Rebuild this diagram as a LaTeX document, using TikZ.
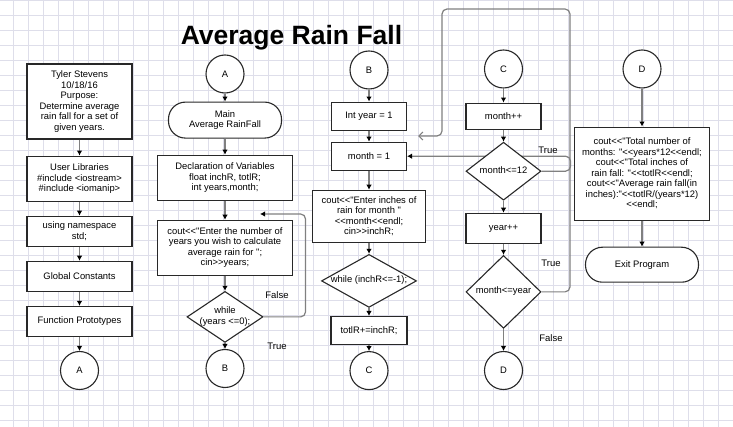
\documentclass[tikz,border=0pt]{standalone}
\usepackage{fontspec}
\newfontfamily\arial{Liberation Sans}
\usetikzlibrary{arrows.meta,positioning,calc,shapes.geometric}
\pgfdeclarelayer{grid}
\pgfdeclarelayer{background}
\pgfsetlayers{grid,background,main}
\definecolor{linegray}{RGB}{128,128,128}
\definecolor{shapeline}{RGB}{40,40,40}
\definecolor{gridblue}{RGB}{222,222,234}
\newcommand{\dtxt}[1]{\makebox[0pt]{\begin{tabular}{@{}c@{}}#1\end{tabular}}}

\begin{document}
\begin{tikzpicture}[
    x=1pt, y=-1pt,
    font=\arial\fontsize{9.4}{10.5}\selectfont,
    block/.style={draw=shapeline, line width=1.1pt, fill=white, align=center, inner sep=2pt, minimum width=105pt, minimum height=30pt},
    smallblock/.style={block, minimum width=75pt, minimum height=28pt},
    widebox/.style={block, minimum width=135pt},
    terminal/.style={block, rounded corners=17pt, minimum width=113pt, minimum height=36pt},
    decision/.style={draw=shapeline, line width=1.1pt, fill=white, diamond, inner sep=0pt, minimum width=75pt},
    conn/.style={draw=shapeline, line width=1.1pt, fill=white, circle, inner sep=0pt, minimum size=38pt},
    flow/.style={draw=linegray, line width=1.4pt, -{Latex[length=5pt,width=5.5pt,color=black]}},
    loopline/.style={flow, line width=1.2pt, rounded corners=5pt},
    lbl/.style={font=\arial\fontsize{9.5}{11}\selectfont},
    title/.style={font=\arial\bfseries\fontsize{26.5}{30}\selectfont}
]
\useasboundingbox (0,0) rectangle (733,427);
\begin{pgfonlayer}{grid}
\fill[white] (0,0) rectangle (733,427);
\foreach \gx in {13,28,...,733} \draw[gridblue, line width=0.6pt] (\gx,0) -- (\gx,427);
\foreach \gy in {0,15,...,427} \draw[gridblue, line width=0.6pt] (0,\gy) -- (733,\gy);
\end{pgfonlayer}

\node[title, anchor=base] (ttl) at (291.5,45) {Average Rain Fall};

% header and libraries
\node[block, minimum height=75pt] (info) at (79.5,101.5) {Tyler Stevens\\10/18/16\\Purpose:\\Determine average\\rain fall for a set of\\given years.};
\node[block, minimum height=45pt, below=16pt of info] (libs) {User Libraries\\\#include <iostream>\\\#include <iomanip>};
\node[block, below=14pt of libs] (nspace) {using namespace\\std;};
\node[block, below=14pt of nspace] (consts) {Global Constants};
\node[block, below=14pt of consts] (protos) {Function Prototypes};
\node[conn, below=14pt of protos] (toA) {A};

% main, ask for years
\node[conn] (fromA) at (225,74) {A};
\node[terminal, below=8pt of fromA] (mainfn) {Main\\Average RainFall};
\node[widebox, minimum height=45pt, below=16pt of mainfn] (decl) {Declaration of Variables\\float inchR, totlR;\\int years,month;};
\node[widebox, minimum height=55pt, below=19pt of decl] (askyears) {cout<<"Enter the number of\\years you wish to calculate\\average rain for ";\\cin>>years;};
\node[decision, minimum width=76pt, minimum height=51pt, below=15pt of askyears] (chkyears) {\dtxt{while\\(years <=0);}};
\node[conn, below=6pt of chkyears] (toB) {B};

% read inches
\node[conn] (fromB) at (369,70) {B};
\node[smallblock, below=12pt of fromB] (yearone) {Int year = 1};
\node[smallblock, below=11pt of yearone] (monthone) {month = 1};
\node[block, minimum width=113pt, minimum height=52pt, below=19pt of monthone] (askinch) {cout<<"Enter inches of\\rain for month "\\<<month<<endl;\\cin>>inchR;};
\node[decision, minimum width=95pt, minimum height=53pt, below=11pt of askinch] (chkinch) {\dtxt{while (inchR<=-1);}};
\node[smallblock, minimum width=76pt, below=8pt of chkinch] (addinch) {totlR+=inchR;};
\node[conn, below=6pt of addinch] (toC) {C};

% counters
\node[conn] (fromC) at (503.5,69) {C};
\node[smallblock, minimum height=26pt, below=14pt of fromC] (monthinc) {month++};
\node[decision, minimum height=58pt, below=12pt of monthinc] (chkmonth) {\dtxt{month<=12}};
\node[smallblock, minimum height=30pt, below=12pt of chkmonth] (yearinc) {year++};
\node[decision, minimum height=73pt, below=11pt of yearinc] (chkyear) {\dtxt{month<=year}};
\node[conn, below=22pt of chkyear] (toD) {D};

% results
\node[conn] (fromD) at (642,69) {D};
\node[widebox, minimum height=93pt, below=38pt of fromD] (report) {cout<<"Total number of\\months: "<<years*12<<endl;\\cout<<"Total inches of\\rain fall: "<<totlR<<endl;\\cout<<"Average rain fall(in\\inches):"<<totlR/(years*12)\\<<endl;};
\node[terminal, minimum height=35pt, below=26pt of report] (exitprog) {Exit Program};

\coordinate (yearsback) at (260,214);
\coordinate (yearback) at (418,136);

\draw[flow] (info) -- (libs);
\draw[flow] (libs) -- (nspace);
\draw[flow] (nspace) -- (consts);
\draw[flow] (consts) -- (protos);
\draw[flow] (protos) -- (toA);

\draw[flow] (fromA) -- (mainfn);
\draw[flow] (mainfn) -- (decl);
\draw[flow] (decl) -- (askyears);
\draw[flow] (askyears) -- (chkyears);
\draw[flow] (chkyears) -- (toB);

\draw[flow] (fromB) -- (yearone);
\draw[flow] (yearone) -- (monthone);
\draw[flow] (monthone) -- (askinch);
\draw[flow] (askinch) -- (chkinch);
\draw[flow] (chkinch) -- (addinch);
\draw[flow] (addinch) -- (toC);

\draw[flow] (fromC) -- (monthinc);
\draw[flow] (monthinc) -- (chkmonth);
\draw[flow] (chkmonth) -- (yearinc);
\draw[flow] (yearinc) -- (chkyear);
\draw[flow] (chkyear) -- (toD);

\draw[flow] (fromD) -- (report);
\draw[flow] (report) -- (exitprog);

\begin{pgfonlayer}{background}
\draw[loopline] (chkyears.east) -- ++(42,0) |- (yearsback);
\draw[loopline] (chkmonth.east) -- ++(29,0) |- (monthone.east);
\draw[loopline, -{Straight Barb[length=4pt,width=8pt]}] (chkyear.east) -| (570,9) -| (442,136) -- (yearback);
\end{pgfonlayer}

\node[lbl] (falseyears) at (277,295) {False};
\node[lbl] (trueyears) at (277,346) {True};
\node[lbl] (truemonth) at (548,150) {True};
\node[lbl] (trueyear) at (551,263) {True};
\node[lbl] (falseyear) at (551,338) {False};
\end{tikzpicture}
\end{document}
